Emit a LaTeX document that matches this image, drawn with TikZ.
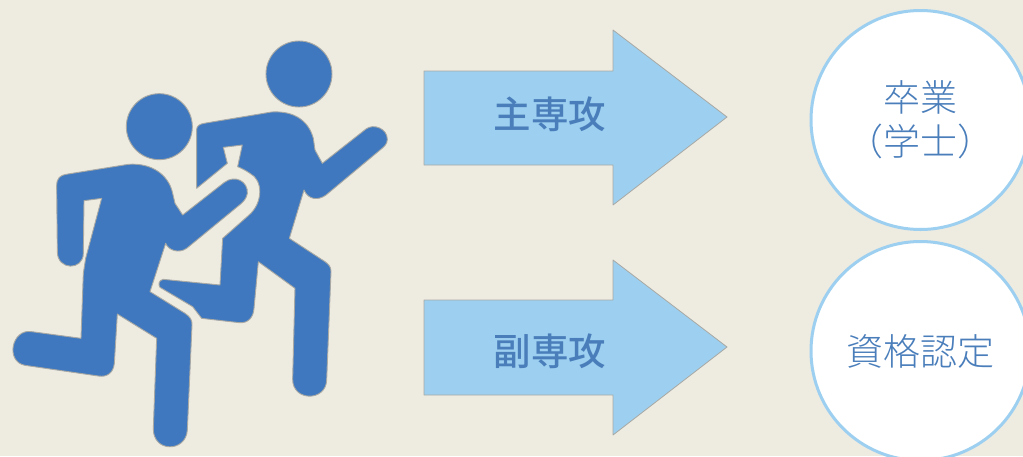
\documentclass[tikz,border=0pt]{standalone}
\usepackage{fontspec}
\newfontfamily\cjk{Noto Sans CJK JP Light}
\newfontfamily\cjkb{Noto Sans CJK JP Medium}
\definecolor{bgc}{HTML}{EEEBE1}
\definecolor{runner}{HTML}{3F78BE}
\definecolor{halo}{HTML}{A8A9A4}
\definecolor{arrowc}{HTML}{9DD0F0}
\definecolor{txt}{HTML}{4A7EBB}
\tikzset{
 runnerbody/.style={fill=runner,draw=halo,line width=0.9pt,line join=round},
 arrowbody/.style={fill=arrowc,draw=halo,line width=0.8pt,line join=round},
 arrowlabel/.style={text=txt,font=\cjkb\fontsize{37.5}{40}\selectfont,inner sep=0pt},
 goal/.style={circle,fill=white,draw=arrowc,line width=3pt,minimum size=219pt,inner sep=0pt,align=center,text=txt,font=\cjk\fontsize{37}{44}\selectfont},
}
\begin{document}
\begin{tikzpicture}[x=1pt,y=-1pt]
\path[use as bounding box,fill=bgc] (0,0) rectangle (1023,456);
\clip (0,0) rectangle (1023,456);
\begin{scope}[x=0.33333pt,y=-0.33333pt,shift={(0pt,-30pt)}]
% back runner
\draw[runnerbody] (590,298) .. controls (590,288) and (600,282) .. (612,280)
 -- (815,246) .. controls (880,242) and (925,270) .. (940,325)
 -- (945,360) -- (967,400) -- (1098,297)
 .. controls (1120,280) and (1162,295) .. (1162,328)
 .. controls (1162,342) and (1152,350) .. (1145,356)
 -- (978,495) .. controls (955,512) and (925,510) .. (912,480)
 -- (868,625) -- (975,695) .. controls (988,704) and (993,712) .. (993,725)
 -- (980,1050) .. controls (978,1115) and (878,1115) .. (878,1048)
 -- (885,775) -- (775,695) -- (762,835) .. controls (760,862) and (745,880) .. (718,878)
 -- (605,865) -- (578,830) -- (480,772) .. controls (474,765) and (476,750) .. (490,748)
 -- (660,765) -- (668,625) -- (745,557)
 .. controls (790,520) and (790,450) .. (750,430)
 .. controls (735,420) and (725,415) .. (713,410)
 -- (727,345) -- (670,352) -- (682,400) -- (590,475) -- cycle;
\node[circle,runnerbody,minimum size=66pt,inner sep=0pt] (head2) at (897,132) {};
% front runner
\draw[runnerbody] (170,468) .. controls (170,445) and (180,436) .. (198,433)
 -- (385,403) .. controls (450,398) and (505,430) .. (518,490)
 -- (525,520) -- (548,555) -- (672,458)
 .. controls (705,432) and (745,455) .. (742,490)
 .. controls (740,505) and (730,515) .. (722,522)
 -- (560,655) .. controls (535,672) and (505,660) .. (497,640)
 -- (450,785) -- (555,850) .. controls (570,860) and (577,870) .. (576,885)
 -- (562,1200) .. controls (558,1268) and (458,1268) .. (460,1195)
 -- (470,925) -- (352,852) -- (343,1000) .. controls (340,1030) and (320,1042) .. (295,1038)
 -- (75,1006) .. controls (15,995) and (35,895) .. (95,905)
 -- (243,925) -- (250,730) -- (257,685) -- (305,505) -- (252,512) -- (250,670)
 .. controls (250,722) and (172,722) .. (172,665) -- cycle;
\node[circle,runnerbody,minimum size=66pt,inner sep=0pt] (head1) at (478,290) {};
\end{scope}
% arrows
\draw[arrowbody] (424,71) -- (613,71) -- (613,30) -- (727,117) -- (613,205) -- (613,165) -- (424,165) -- cycle;
\draw[arrowbody] (424,300) -- (613,300) -- (613,260) -- (727,347) -- (613,435) -- (613,395) -- (424,395) -- cycle;
\node[arrowlabel] (major) at (550,114) {主専攻};
\node[arrowlabel] (minor) at (550,351) {副専攻};
% circles
\node[goal] (grad) at (920.5,120) {卒業\\（学士）};
\node[goal] (cert) at (920.5,351) {資格認定};
\end{tikzpicture}
\end{document}
